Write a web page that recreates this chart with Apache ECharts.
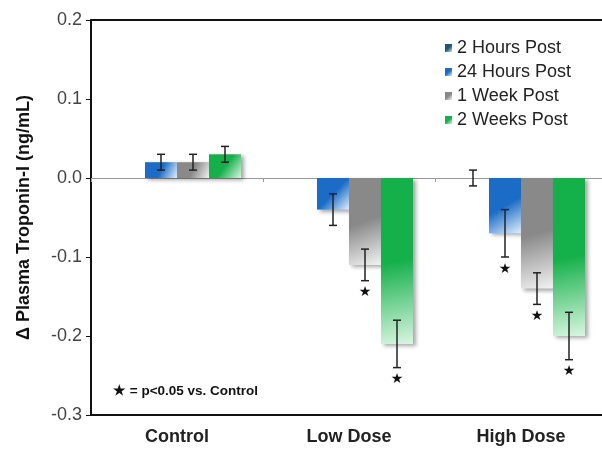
<!DOCTYPE html>
<html>
<head>
<meta charset="utf-8">
<script src="https://cdn.jsdelivr.net/npm/echarts@6/dist/echarts.min.js"></script>
<style>
  html, body { margin: 0; padding: 0; background: #fff; }
  #chart { width: 602px; height: 450px; }
</style>
</head>
<body>
<div id="chart"></div>
<script>
const categories = ['Control', 'Low Dose', 'High Dose'];
const seriesNames = ['2 Hours Post', '24 Hours Post', '1 Week Post', '2 Weeks Post'];

// means, errors and significance flags per time point
const hours2 = [null, null, 0.0];
const hours2Err = [null, null, 0.01];
const hours2Star = [0, 0, 0];
const hours24 = [0.02, -0.04, -0.07];
const hours24Err = [0.01, 0.02, 0.03];
const hours24Star = [0, 0, 1];
const week1 = [0.02, -0.11, -0.14];
const week1Err = [0.01, 0.02, 0.02];
const week1Star = [0, 1, 1];
const weeks2 = [0.03, -0.21, -0.20];
const weeks2Err = [0.01, 0.03, 0.03];
const weeks2Star = [0, 1, 1];

const yTicks = [-0.3, -0.2, -0.1, 0.0, 0.1, 0.2];

const means = [hours2, hours24, week1, weeks2];
const errs = [hours2Err, hours24Err, week1Err, weeks2Err];
const stars = [hours2Star, hours24Star, week1Star, weeks2Star];

const solid = ['#1d5878', '#1a6cc6', '#898989', '#14b04a'];
const light = ['#cfe0ea', '#e3effb', '#f2f2f2', '#d9f6e1'];
const FONT = '"Liberation Sans", Arial, sans-serif';
const BAR_W = 32;

const chart = echarts.init(document.getElementById('chart'));

const barSeries = seriesNames.map((name, s) => ({
  name: name,
  type: 'bar',
  barWidth: BAR_W,
  barGap: '0%',
  data: means[s],
  itemStyle: {
    color: new echarts.graphic.LinearGradient(0, 0, 1, 1, [
      { offset: 0, color: solid[s] },
      { offset: 0.5, color: solid[s] },
      { offset: 1, color: light[s] },
    ]),
    shadowColor: 'rgba(0,0,0,0.35)',
    shadowBlur: 4,
    shadowOffsetX: 3,
    shadowOffsetY: 2,
  },
}));

const errData = [];
means.forEach((arr, s) => {
  arr.forEach((v, c) => {
    if (v === null) return;
    errData.push([c, s, v, errs[s][c], stars[s][c]]);
  });
});

const option = {
  animation: false,
  textStyle: { fontFamily: FONT },
  grid: {
    left: 91, top: 20, width: 516, height: 395,
    outerBoundsMode: 'none', containLabel: false,
  },
  legend: {
    orient: 'vertical',
    left: 440,
    top: 34,
    data: seriesNames,
    icon: 'rect',
    itemWidth: 7,
    itemHeight: 8,
    itemGap: 6,
    textStyle: { fontSize: 18, color: '#222', fontFamily: FONT, lineHeight: 18 },
    itemStyle: { shadowBlur: 0, shadowOffsetX: 0, shadowOffsetY: 0 },
  },
  xAxis: [
    {
      type: 'category',
      data: categories,
      position: 'bottom',
      axisLine: { show: true, onZero: false, lineStyle: { color: '#111', width: 2 } },
      axisTick: { show: false },
      axisLabel: { fontSize: 18, fontWeight: 'bold', color: '#222', margin: 13, fontFamily: FONT },
    },
    {
      type: 'category',
      data: categories,
      position: 'bottom',
      axisLine: { show: true, onZero: true, lineStyle: { color: '#999', width: 1 } },
      axisTick: { show: true, length: 4, lineStyle: { color: '#999' } },
      axisLabel: { show: false },
    },
    {
      type: 'category',
      data: categories,
      position: 'top',
      axisLine: { show: true, onZero: false, lineStyle: { color: '#111', width: 2 } },
      axisTick: { show: false },
      axisLabel: { show: false },
    },
  ],
  yAxis: {
    type: 'value',
    min: yTicks[0],
    max: yTicks[yTicks.length - 1],
    interval: 0.1,
    name: 'Δ Plasma Troponin-I (ng/mL)',
    nameLocation: 'middle',
    nameGap: 58,
    nameTextStyle: { fontSize: 18, fontWeight: 'bold', color: '#111', fontFamily: FONT },
    axisLine: { show: true, onZero: false, lineStyle: { color: '#111', width: 2 } },
    axisTick: { show: true, length: 5, lineStyle: { color: '#111' } },
    splitLine: { show: false },
    axisLabel: {
      fontSize: 18,
      color: '#444',
      margin: 9,
      fontFamily: FONT,
      formatter: (v) => v.toFixed(1),
    },
  },
  graphic: [
    {
      type: 'text',
      left: 113,
      top: 384,
      style: { text: '★ = p<0.05 vs. Control', font: 'bold 13.5px ' + FONT, fill: '#111' },
    },
  ],
  series: [
    ...barSeries,
    {
      type: 'custom',
      z: 10,
      data: errData,
      renderItem: (params, api) => {
        const c = api.value(0);
        const s = api.value(1);
        const m = api.value(2);
        const e = api.value(3);
        const x = api.coord([c, 0])[0] + (s - 1.5) * BAR_W;
        const yTop = api.coord([c, m + e])[1];
        const yBot = api.coord([c, m - e])[1];
        const st = { stroke: '#222', lineWidth: 1.5 };
        const children = [
          { type: 'line', shape: { x1: x, y1: yTop, x2: x, y2: yBot }, style: st },
          { type: 'line', shape: { x1: x - 4, y1: yTop, x2: x + 4, y2: yTop }, style: st },
          { type: 'line', shape: { x1: x - 4, y1: yBot, x2: x + 4, y2: yBot }, style: st },
        ];
        if (api.value(4)) {
          children.push({
            type: 'text',
            style: {
              text: '★', x: x, y: yBot + 12, align: 'center', verticalAlign: 'middle',
              font: '14px "DejaVu Sans", sans-serif', fill: '#111',
            },
          });
        }
        return { type: 'group', children: children };
      },
    },
  ],
};

chart.setOption(option);
</script>
</body>
</html>
